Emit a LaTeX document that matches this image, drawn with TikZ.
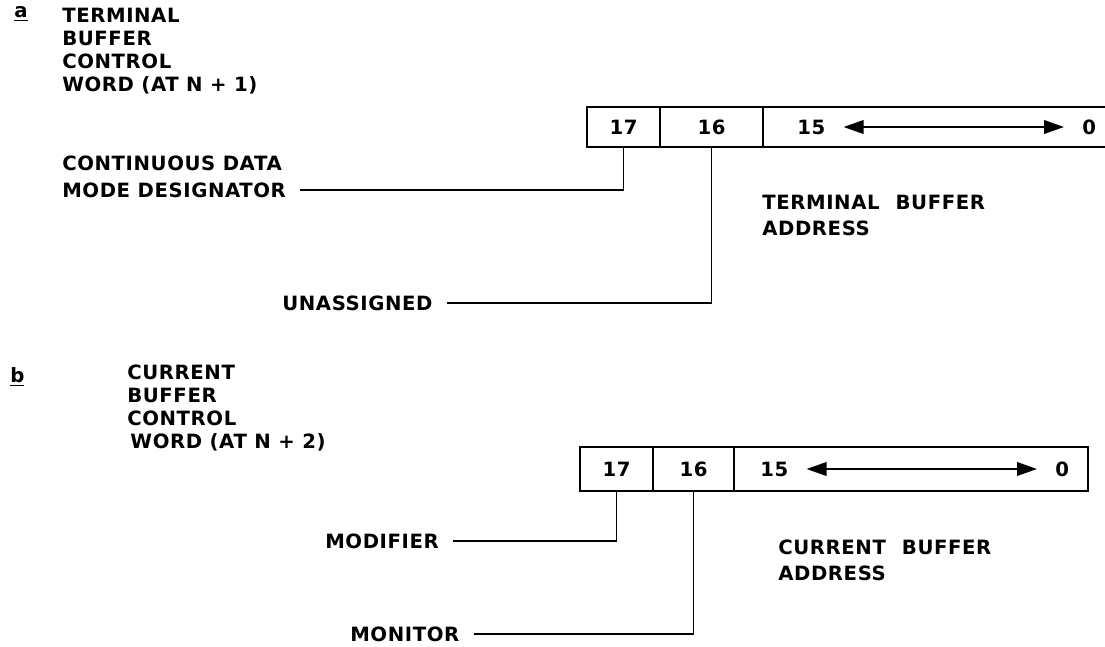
\documentclass[tikz,border=0pt]{standalone}
\usepackage{fontspec}
\usepackage{tikz}
\usetikzlibrary{arrows.meta, positioning, calc}
\newfontfamily\lettering[LetterSpace=3]{DejaVu Sans}
\newcommand{\lettersize}{\fontsize{14pt}{16.3pt}\selectfont}
\tikzset{
	lbl/.style   ={inner sep=0pt, anchor=west, font=\lettering\bfseries\lettersize},
	title/.style ={inner sep=0pt, anchor=north west, align=left, font=\lettering\bfseries\lettersize},
	note/.style  ={inner sep=0pt, anchor=north west, align=left, font=\lettering\bfseries\fontsize{14pt}{18.5pt}\selectfont},
	% register word cells
	cell/.style  ={rectangle, draw=black, line width=1.3pt, outer sep=0pt, inner sep=0pt, font=\lettering\bfseries\lettersize},
	lead/.style  ={line width=1.3pt},
	span/.style  ={{Triangle[length=0.5cm, width=0.34cm]}-{Triangle[length=0.5cm, width=0.34cm]}, line width=1.3pt,
		shorten <=0.45cm, shorten >=0.45cm},
}
\begin{document}
\begin{tikzpicture}[x=0.025cm, y=-0.025cm]
	\useasboundingbox (0,0) rectangle (1105,646);
	% part a
	\node[lbl] (tagA) at (14,14) {\underline{a}};
	\node[title] (titA) at (62,8) {TERMINAL\\BUFFER\\CONTROL\\WORD (AT N + 1)};
	\node[cell, minimum width=1.825cm, minimum height=1cm] (a17) at (623.5,127) {17};
	\node[cell, minimum width=2.575cm, minimum height=1cm, right=0pt of a17] (a16) {16};
	\draw[lead] (a16.north east) -- ++(12cm,0);
	\draw[lead] (a16.south east) -- ++(12cm,0);
	\node[lbl] (a15) at (797,127) {15};
	\node[lbl] (a0) at (1082,127) {0};
	\draw[span] (a15.east) -- (a0.west);
	\node[lbl] (cdd) at (62,163) {CONTINUOUS DATA};
	\node[lbl] (mdd) at (62,190) {MODE DESIGNATOR};
	\node[lbl] (una) at (282,303) {UNASSIGNED};
	\node[note] (tba) at (762,195) {TERMINAL\hspace{0.4cm}BUFFER\\ADDRESS};
	\draw[lead] (a17.south) |- ([xshift=0.35cm]mdd.east);
	\draw[lead] (a16.south) |- ([xshift=0.35cm]una.east);
	% part b
	\node[lbl] (tagB) at (10,377) {\underline{b}};
	\node[title] (titB) at (127,365) {CURRENT\\BUFFER\\CONTROL\\\hspace*{0.08cm}WORD (AT N + 2)};
	\node[cell, minimum width=1.825cm, minimum height=1.1cm] (b17) at (616.5,469) {17};
	\node[cell, minimum width=2.025cm, minimum height=1.1cm, right=0pt of b17] (b16) {16};
	\node[cell, minimum width=8.85cm, minimum height=1.1cm, right=0pt of b16] (bad) {};
	\node[lbl] (b15) at (760,469) {15};
	\node[lbl] (b0) at (1055,469) {0};
	\draw[span] (b15.east) -- (b0.west);
	\node[lbl] (mod) at (325,541) {MODIFIER};
	\node[lbl] (mon) at (350,634) {MONITOR};
	\node[note] (cba) at (778,540) {CURRENT\hspace{0.4cm}BUFFER\\ADDRESS};
	\draw[lead] (b17.south) |- ([xshift=0.35cm]mod.east);
	\draw[lead] (b16.south) |- ([xshift=0.35cm]mon.east);
\end{tikzpicture}
\end{document}
